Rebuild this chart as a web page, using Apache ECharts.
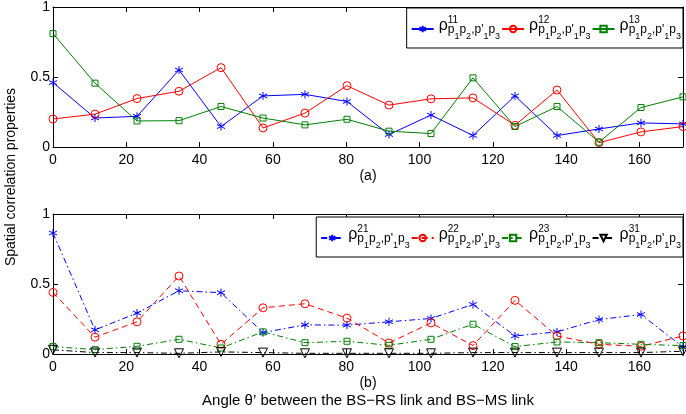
<!DOCTYPE html>
<html>
<head>
<meta charset="UTF-8">
<script src="https://cdn.jsdelivr.net/npm/echarts@6/dist/echarts.min.js"></script>
<style>
  html, body { margin: 0; padding: 0; background: #fff; }
  #chart { width: 686px; height: 414px; }
</style>
</head>
<body>
<div id="chart"></div>
<script>
// angle positions (degrees)
const angles = [0, 11.46, 22.92, 34.38, 45.84, 57.3, 68.75, 80.21, 91.67, 103.13, 114.59, 126.05, 137.51, 148.97, 160.43, 171.89];
const xTicks = [0, 20, 40, 60, 80, 100, 120, 140, 160];

// panel (a)
const rho11 = [0.46, 0.207, 0.219, 0.55, 0.146, 0.365, 0.376, 0.325, 0.089, 0.228, 0.082, 0.365, 0.082, 0.129, 0.172, 0.165];
const rho12 = [0.20, 0.235, 0.346, 0.398, 0.567, 0.136, 0.242, 0.438, 0.299, 0.344, 0.351, 0.155, 0.407, 0.031, 0.108, 0.146];
const rho13 = [0.81, 0.456, 0.186, 0.188, 0.289, 0.207, 0.158, 0.198, 0.113, 0.096, 0.494, 0.146, 0.289, 0.035, 0.282, 0.358];

// panel (b)
const rho21 = [0.864, 0.172, 0.292, 0.452, 0.438, 0.153, 0.208, 0.206, 0.23, 0.254, 0.354, 0.129, 0.158, 0.246, 0.282, 0.05];
const rho22 = [0.44, 0.12, 0.23, 0.557, 0.069, 0.33, 0.359, 0.256, 0.079, 0.222, 0.06, 0.383, 0.129, 0.069, 0.055, 0.129];
const rho23 = [0.053, 0.031, 0.055, 0.105, 0.043, 0.158, 0.081, 0.091, 0.062, 0.105, 0.213, 0.053, 0.086, 0.081, 0.069, 0.06];
const rho31 = [0.03, 0.01, 0.01, 0.005, 0.015, 0.01, 0.005, 0.005, 0.005, 0.005, 0.01, 0.01, 0.01, 0.01, 0.01, 0.02];

const FONT = 'Liberation Sans';
const STAR = 'path://M5,0L5,10M0.67,2.5L9.33,7.5M0.67,7.5L9.33,2.5';

const pairs = vals => vals.map((v, i) => [angles[i], v]);

function mk(name, vals, color, symbol, idx, dash, extra) {
    return Object.assign({
        name: name,
        type: 'line',
        xAxisIndex: idx,
        yAxisIndex: idx,
        data: pairs(vals),
        symbol: symbol,
        symbolSize: 8,
        showSymbol: true,
        animation: false,
        color: color,
        lineStyle: { color: color, width: 1, type: dash },
        itemStyle: { color: 'transparent', borderColor: color, borderWidth: 1 },
        emphasis: { disabled: true }
    }, extra || {});
}

const dashDot = [6, 3, 1.5, 3];
const dashed = [6, 4];

let chart = echarts.init(document.getElementById('chart'));

function xAx(gi, name, pos) {
    const main = pos === 'bottom';
    return {
        type: 'value', gridIndex: gi, position: pos, min: 0, max: 171.89, interval: 20,
        name: main ? name : '', nameLocation: 'middle', nameGap: 20,
        nameTextStyle: {
            color: '#000', fontFamily: FONT, fontSize: 14, lineHeight: 17, verticalAlign: 'top',
            rich: {
                a: { color: '#000', fontFamily: FONT, fontSize: 14, lineHeight: 17 },
                t: { color: '#000', fontFamily: FONT, fontSize: 15, lineHeight: 17 }
            }
        },
        axisLine: { show: true, onZero: false, lineStyle: { color: '#000', width: 1 } },
        axisTick: { show: true, inside: true, length: 5, lineStyle: { color: '#000' } },
        axisLabel: {
            show: main, color: '#000', fontFamily: FONT, fontSize: 14, margin: 6,
            formatter: v => xTicks.indexOf(v) >= 0 ? String(v) : ''
        },
        splitLine: { show: false }
    };
}
function yAx(gi, pos) {
    const main = pos === 'left';
    return {
        type: 'value', gridIndex: gi, position: pos, min: 0, max: 1, interval: 0.5,
        axisLine: { show: true, onZero: false, lineStyle: { color: '#000', width: 1 } },
        axisTick: { show: true, inside: true, length: 5, lineStyle: { color: '#000' } },
        axisLabel: { show: main, color: '#000', fontFamily: FONT, fontSize: 14, margin: 3 },
        splitLine: { show: false }
    };
}

// legend label pieces: rho, superscript, subscript, sub-subscript
const rich = {
    r: { fontFamily: FONT, fontSize: 16, color: '#000', lineHeight: 30, verticalAlign: 'top', padding: [3.5, 0, 0, 0] },
    sup: { fontFamily: FONT, fontSize: 10, color: '#000', width: 0, lineHeight: 30, verticalAlign: 'top', padding: [1, 0, 0, 0] },
    s: { fontFamily: FONT, fontSize: 12, color: '#000', lineHeight: 30, verticalAlign: 'top', padding: [10, 0, 0, 0] },
    ss: { fontFamily: FONT, fontSize: 9, color: '#000', lineHeight: 30, verticalAlign: 'top', padding: [18.5, 0, 0, 0] }
};
const legendFmt = name => '{r|ρ}{sup|' + name + '}{s|p}{ss|1}{s|p}{ss|2}{s|,p\'}{ss|1}{s|p}{ss|3}';

function legend(names, top) {
    return {
        data: names, top: top, right: 3, orient: 'horizontal',
        itemWidth: 22, itemHeight: 8, itemGap: 1,
        padding: [6, 2, 4, 4],
        backgroundColor: '#fff', borderColor: '#000', borderWidth: 1,
        selectedMode: false,
        formatter: legendFmt,
        textStyle: { lineHeight: 30, rich: rich }
    };
}

chart.setOption({
    animation: false,
    backgroundColor: '#fff',
    grid: [
        { left: 53, right: 1, top: 7, bottom: 267 },
        { left: 53, right: 1, top: 214, bottom: 60 }
    ],
    xAxis: [
        xAx(0, '{a|(a)}', 'bottom'),
        xAx(1, '{a|(b)}\n{t|Angle θ\u2019 between the BS\u2212RS link and BS\u2212MS link}', 'bottom'),
        xAx(0, '', 'top'), xAx(1, '', 'top')
    ],
    yAxis: [yAx(0, 'left'), yAx(1, 'left'), yAx(0, 'right'), yAx(1, 'right')],
    legend: [legend(['11', '12', '13'], 8), legend(['21', '22', '23', '31'], 217)],
    graphic: [{
        type: 'text', x: 11, y: 177, rotation: Math.PI / 2,
        style: { text: 'Spatial correlation properties', fontFamily: FONT, fontSize: 14, fill: '#000', align: 'center', verticalAlign: 'middle' }
    }],
    series: [
        mk('11', rho11, '#0000ff', STAR, 0, 'solid'),
        mk('12', rho12, '#ff0000', 'circle', 0, 'solid'),
        mk('13', rho13, '#008000', 'rect', 0, 'solid', { symbolSize: 6 }),
        mk('21', rho21, '#0000ff', STAR, 1, dashDot),
        mk('22', rho22, '#ff0000', 'circle', 1, dashed),
        mk('23', rho23, '#008000', 'rect', 1, dashDot, { symbolSize: 6 }),
        mk('31', rho31, '#000000', 'triangle', 1, dashDot, { symbolRotate: 180, symbolSize: 9 })
    ]
});
</script>
</body>
</html>
